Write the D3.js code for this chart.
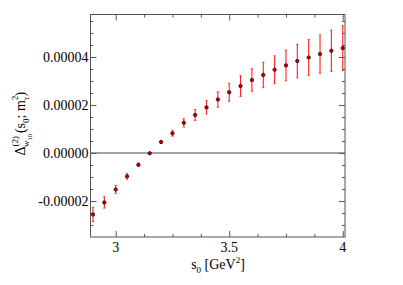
<!DOCTYPE html>
<html>
<head>
<meta charset="utf-8">
<script src="https://cdn.jsdelivr.net/npm/d3@7"></script>
<style>
  body { margin: 0; background: #fff; }
</style>
</head>
<body>
<svg id="chart" width="403" height="285"></svg>
<script>
// s0 values [GeV^2]
const s0 = [2.9, 2.95, 3.0, 3.05, 3.1, 3.15, 3.2, 3.25, 3.3, 3.35, 3.4, 3.45, 3.5,
            3.55, 3.6, 3.65, 3.7, 3.75, 3.8, 3.85, 3.9, 3.95, 4.0];
// Delta values
const delta = [-2.56e-5, -2.06e-5, -1.52e-5, -0.975e-5, -0.49e-5, -0.01e-5, 0.46e-5, 0.82e-5,
               1.26e-5, 1.58e-5, 1.90e-5, 2.23e-5, 2.53e-5, 2.79e-5, 3.04e-5, 3.25e-5,
               3.47e-5, 3.65e-5, 3.83e-5, 3.98e-5, 4.12e-5, 4.26e-5, 4.37e-5];
// errors
const err = [3.0e-6, 2.4e-6, 1.7e-6, 1.2e-6, 0.6e-6, 0.3e-6, 0.5e-6, 1.2e-6,
             1.8e-6, 2.3e-6, 2.8e-6, 3.2e-6, 3.75e-6, 4.4e-6, 4.7e-6, 5.3e-6,
             5.8e-6, 6.4e-6, 7.0e-6, 7.5e-6, 8.0e-6, 8.6e-6, 9.3e-6];

const xTicks = [3, 3.5, 4];
const xTickLabels = ["3", "3.5", "4"];
const yTicks = [-0.00002, 0, 0.00002, 0.00004];
const yTickLabels = ["-0.00002", "0.00000", "0.00002", "0.00004"];

const FONT = "'Liberation Serif', 'Times New Roman', Times, serif";

const margin = {left: 90.5, top: 14.5, right: 58, bottom: 48};
const W = 403, H = 285;
const width = W - margin.left - margin.right,
      height = H - margin.top - margin.bottom;

const svg = d3.select("#chart");
const g = svg.append("g").attr("transform", `translate(${margin.left},${margin.top})`);

const x = d3.scaleLinear().domain([2.889, 4.01]).range([0, width]);
const y = d3.scaleLinear().domain([-0.000035, 0.0000577]).range([height, 0]);

const data = s0.map((d, i) => ({s: d, v: delta[i], e: err[i]}));

const axisColor = "#555";

// zero line
g.append("line")
  .attr("x1", 0).attr("x2", width)
  .attr("y1", Math.round(y(0)) + 0.5).attr("y2", Math.round(y(0)) + 0.5)
  .attr("stroke", "#444").attr("stroke-width", 1);

// ticks (inward, all four sides)
const xMinor = d3.range(3, 4.01, 0.125).filter(t => xTicks.indexOf(t) < 0);
const yMinor = d3.range(-0.00003, 0.000056, 0.000005).filter(t => !yTicks.some(m => Math.abs(m - t) < 1e-9));

function tickGroup(axis, vals, size, tr) {
  g.append("g").attr("transform", tr)
    .call(axis.tickValues(vals).tickSize(size).tickFormat(""))
    .call(a => a.selectAll("line").attr("stroke", axisColor))
    .call(a => a.select(".domain").remove());
}
tickGroup(d3.axisTop(x), xTicks, 6, `translate(0,${height})`);
tickGroup(d3.axisTop(x), xMinor, 3, `translate(0,${height})`);
tickGroup(d3.axisBottom(x), xTicks, 6, null);
tickGroup(d3.axisBottom(x), xMinor, 3, null);
tickGroup(d3.axisRight(y), yTicks, 6, null);
tickGroup(d3.axisRight(y), yMinor, 3, null);
tickGroup(d3.axisLeft(y), yTicks, 6, `translate(${width},0)`);
tickGroup(d3.axisLeft(y), yMinor, 3, `translate(${width},0)`);

// frame
g.append("rect").attr("width", width).attr("height", height)
  .attr("fill", "none").attr("stroke", axisColor).attr("stroke-width", 1);

// tick labels
g.selectAll(".xl").data(xTicks).join("text")
  .attr("x", d => x(d)).attr("y", height + 15)
  .attr("text-anchor", "middle")
  .style("font-family", FONT).style("font-size", "14px")
  .text((d, i) => xTickLabels[i]);
g.selectAll(".yl").data(yTicks).join("text")
  .attr("x", -2).attr("y", d => y(d) + 5)
  .attr("text-anchor", "end")
  .style("font-family", FONT).style("font-size", "14px")
  .text((d, i) => yTickLabels[i]);

// error bars
const eb = g.append("g");
data.forEach(d => {
  eb.append("line").attr("x1", x(d.s)).attr("x2", x(d.s))
    .attr("y1", y(d.v - d.e)).attr("y2", y(d.v + d.e))
    .attr("stroke", "#ff2020").attr("stroke-width", 1.1);
  [d.v - d.e, d.v + d.e].forEach(v => {
    eb.append("line").attr("x1", x(d.s) - 1.2).attr("x2", x(d.s) + 1.2)
      .attr("y1", y(v)).attr("y2", y(v))
      .attr("stroke", "#ff2020").attr("stroke-width", 0.8);
  });
});

// points
g.selectAll(".pt").data(data).join("circle")
  .attr("cx", d => x(d.s)).attr("cy", d => y(d.v)).attr("r", 1.7)
  .attr("fill", "#cc0000").attr("stroke", "#300000").attr("stroke-width", 0.8);

// x label
const xl = svg.append("text").attr("x", 218).attr("y", 269)
  .attr("text-anchor", "middle")
  .style("font-family", FONT).style("font-size", "14px");
xl.append("tspan").text("s");
xl.append("tspan").attr("dy", 4).style("font-size", "9px").text("0");
xl.append("tspan").attr("dy", -4).text(" [GeV");
xl.append("tspan").attr("dy", -6).style("font-size", "9px").text("2");
xl.append("tspan").attr("dy", 6).text("]");

// y label
const yl = svg.append("text")
  .attr("transform", `translate(25,${margin.top + height / 2 - 2}) rotate(-90)`)
  .attr("text-anchor", "middle")
  .style("font-family", FONT).style("font-size", "14px");
yl.append("tspan").text("Δ");
yl.append("tspan").attr("dy", -7).style("font-size", "9px").text("(2)");
yl.append("tspan").attr("dx", -11).attr("dy", 11).style("font-size", "9px").text("w");
yl.append("tspan").attr("dy", 3).style("font-size", "6.5px").text("10");
yl.append("tspan").attr("dy", -7).attr("dx", 1).text("(s");
yl.append("tspan").attr("dy", 4).style("font-size", "9px").text("0");
yl.append("tspan").attr("dy", -4).text("; m");
yl.append("tspan").attr("dy", -7).style("font-size", "9px").text("2");
yl.append("tspan").attr("dx", -4.5).attr("dy", 11).style("font-size", "9px").text("τ");
yl.append("tspan").attr("dy", -4).text(")");
</script>
</body>
</html>
